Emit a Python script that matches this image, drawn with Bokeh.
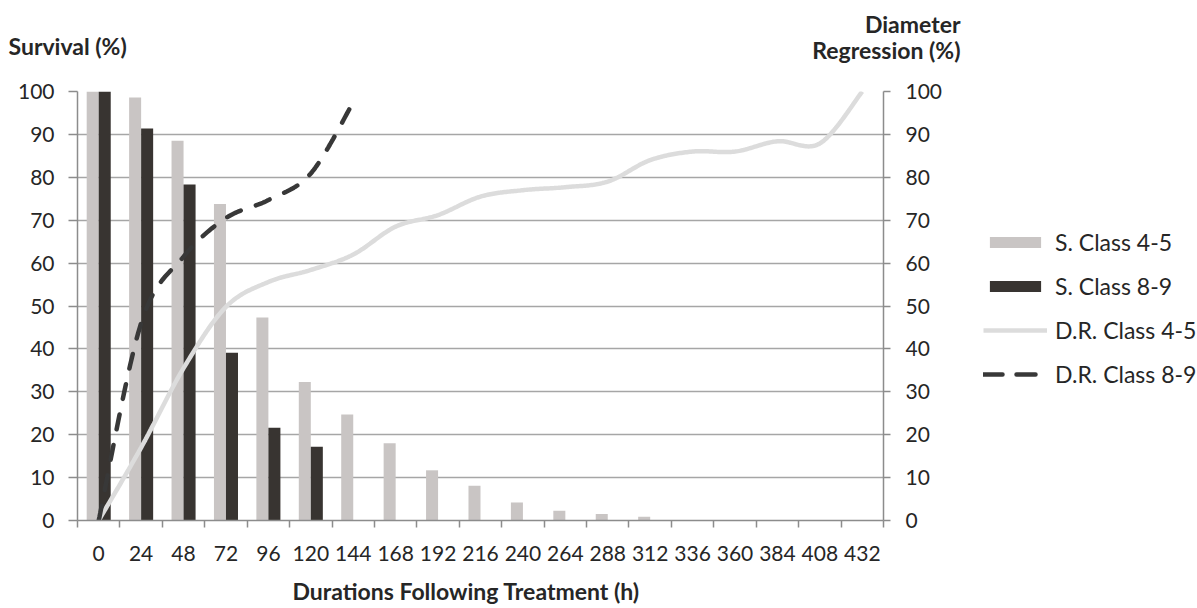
import numpy as np
from bokeh.plotting import figure
from bokeh.layouts import column, row
from bokeh.models import (Range1d, LinearAxis, FixedTicker, Legend, LegendItem,
                          Label, ColumnDataSource)
from bokeh.transform import dodge
from bokeh.embed import file_html
from bokeh.resources import INLINE

# ---------------- data ----------------
hours = [0, 24, 48, 72, 96, 120, 144, 168, 192, 216, 240, 264, 288, 312,
         336, 360, 384, 408, 432]
survival_4_5 = [100, 98.6, 88.5, 73.8, 47.3, 32.3, 24.7, 18.0, 11.7, 8.1,
                4.2, 2.3, 1.5, 0.9, 0, 0, 0, 0, 0]
survival_8_9 = [100, 91.4, 78.3, 39.1, 21.6, 17.2, 0, 0, 0, 0,
                0, 0, 0, 0, 0, 0, 0, 0, 0]
dr_4_5 = [0, 17.0, 35.5, 49.8, 55.6, 58.4, 62.0, 68.5, 71.2, 75.5,
          77.0, 77.7, 79.0, 84.0, 86.0, 86.0, 88.4, 87.9, 100]
dr_8_9_hours = [0, 24, 48, 72, 96, 120, 144]
dr_8_9 = [0, 46.0, 61.5, 70.5, 74.7, 80.9, 97.5]
y_ticks = [0, 10, 20, 30, 40, 50, 60, 70, 80, 90, 100]

series_names = ["S. Class 4-5", "S. Class 8-9", "D.R. Class 4-5", "D.R. Class 8-9"]
left_title = "Survival (%)"
right_title = ["Diameter", "Regression (%)"]
x_title = "Durations Following Treatment (h)"

FONT = "Lato"
TXT = "#262626"
AX = "#8c8c8c"
GRAY_BAR = "#c9c5c4"
DARK_BAR = "#383431"
LIGHT_LINE = "#dcdcdc"
DARK_LINE = "#383838"
W = 1197
HEAD_H = 78
MAIN_H = 497
FOOT_H = 33
MAIN_W = 950
BASE_FIX = 8   # baseline correction measured on the rendered page


def smooth(xs, ys, n=30):
    """Spreadsheet-style 'smoothed line' rendering (Catmull-Rom Bezier)."""
    xs = np.asarray(xs, float)
    ys = np.asarray(ys, float)
    px = np.concatenate([[xs[0]], xs, [xs[-1]]])
    py = np.concatenate([[ys[0]], ys, [ys[-1]]])
    t = np.linspace(0, 1, n + 1)[1:]
    ox, oy = [xs[0]], [ys[0]]
    for i in range(len(xs) - 1):
        p0x, p1x, p2x, p3x = px[i], px[i + 1], px[i + 2], px[i + 3]
        p0y, p1y, p2y, p3y = py[i], py[i + 1], py[i + 2], py[i + 3]
        c1x, c1y = p1x + (p2x - p0x) / 6, p1y + (p2y - p0y) / 6
        c2x, c2y = p2x - (p3x - p1x) / 6, p2y - (p3y - p1y) / 6
        bx = (1 - t) ** 3 * p1x + 3 * (1 - t) ** 2 * t * c1x + 3 * (1 - t) * t ** 2 * c2x + t ** 3 * p2x
        by = (1 - t) ** 3 * p1y + 3 * (1 - t) ** 2 * t * c1y + 3 * (1 - t) * t ** 2 * c2y + t ** 3 * p2y
        ox.extend(bx.tolist())
        oy.extend(by.tolist())
    return ox, oy


def strip(width, height):
    f = figure(width=width, height=height, x_range=Range1d(0, width),
               y_range=Range1d(0, height), output_backend="svg",
               toolbar_location=None, x_axis_type=None, y_axis_type=None,
               min_border=0, min_border_left=0, min_border_right=0,
               min_border_top=0, min_border_bottom=0)
    f.outline_line_color = None
    f.grid.visible = False
    f.frame_align = False
    return f


def text_label(fig, text, x, y, align, size="23px", bold=True):
    fig.add_layout(Label(x=x, y=y, text=text, text_align=align,
                         text_baseline="alphabetic", text_font=FONT,
                         text_font_size=size,
                         text_font_style="bold" if bold else "normal",
                         text_color=TXT))


# ---------------- header strip with the axis titles ----------------
head = strip(W, HEAD_H)
text_label(head, left_title, 8, HEAD_H - 53 + BASE_FIX, "left")
text_label(head, right_title[0], 960, HEAD_H - 31 + BASE_FIX, "right")
text_label(head, right_title[1], 960, HEAD_H - 57 + BASE_FIX, "right")

# ---------------- main chart ----------------
p = figure(width=MAIN_W, height=MAIN_H,
           x_range=Range1d(-12, 444), y_range=Range1d(0, 100),
           output_backend="svg", toolbar_location=None,
           min_border_left=77, min_border_right=MAIN_W - 883,
           min_border_top=13, min_border_bottom=55)
p.frame_align = False
p.outline_line_color = None
p.background_fill_color = "white"
p.border_fill_color = "white"
p.extra_y_ranges = {"dr": Range1d(0, 100)}

xa = p.xaxis[0]
xa.ticker = FixedTicker(ticks=hours, minor_ticks=[h - 12 for h in hours] + [hours[-1] + 12])
xa.major_tick_line_color = None
xa.major_tick_out = 0
xa.major_tick_in = 0
xa.minor_tick_out = 7
xa.minor_tick_in = 0
xa.minor_tick_line_color = AX
xa.minor_tick_line_width = 1.5
xa.axis_line_color = AX
xa.axis_line_width = 1.5
xa.major_label_standoff = 18
xa.major_label_text_font = FONT
xa.major_label_text_font_size = "21px"
xa.major_label_text_color = TXT

ya = p.yaxis[0]
ya.ticker = FixedTicker(ticks=y_ticks)
ya.major_tick_out = 9
ya.major_tick_in = 0
ya.minor_tick_line_color = None
ya.major_tick_line_color = AX
ya.major_tick_line_width = 1.5
ya.axis_line_color = AX
ya.axis_line_width = 1.5
ya.major_label_standoff = 14
ya.major_label_text_font = FONT
ya.major_label_text_font_size = "21px"
ya.major_label_text_color = TXT

ra = LinearAxis(y_range_name="dr", ticker=FixedTicker(ticks=y_ticks))
ra.major_tick_out = 7
ra.major_tick_in = 0
ra.minor_tick_line_color = None
ra.major_tick_line_color = AX
ra.major_tick_line_width = 1.5
ra.axis_line_color = AX
ra.axis_line_width = 1.5
ra.major_label_standoff = 15
ra.major_label_text_font = FONT
ra.major_label_text_font_size = "21px"
ra.major_label_text_color = TXT
p.add_layout(ra, "right")

p.xgrid.visible = False
p.ygrid.ticker = FixedTicker(ticks=y_ticks)
p.ygrid.grid_line_color = "#a6a6a6"
p.ygrid.grid_line_width = 1.5

src = ColumnDataSource(dict(hours=hours, s45=survival_4_5, s89=survival_8_9))
p.vbar(x=dodge("hours", -3.4), top="s45", width=6.8, source=src,
       fill_color=GRAY_BAR, line_color=None)
p.vbar(x=dodge("hours", 3.4), top="s89", width=6.8, source=src,
       fill_color=DARK_BAR, line_color=None)

lx, ly = smooth(hours, dr_4_5)
p.line(lx, ly, y_range_name="dr", line_color=LIGHT_LINE, line_width=4.5)
dx, dy = smooth(dr_8_9_hours, dr_8_9)
p.line(dx, dy, y_range_name="dr", line_color=DARK_LINE, line_width=4.5,
       line_dash="15 16", line_cap="round")

# ---------------- legend panel (same styles as the series) ----------------
LEG_W = W - MAIN_W
leg = strip(LEG_W, MAIN_H)
e = ColumnDataSource(dict(x=[np.nan], y=[np.nan]))
k1 = leg.vbar(x="x", top="y", width=1, source=e, fill_color=GRAY_BAR, line_color=None)
k2 = leg.vbar(x="x", top="y", width=1, source=e, fill_color=DARK_BAR, line_color=None)
k3 = leg.line(x="x", y="y", source=e, line_color=LIGHT_LINE, line_width=4.5)
k4 = leg.line(x="x", y="y", source=e, line_color=DARK_LINE, line_width=4.5,
              line_dash="19 14", line_cap="round")
legend = Legend(items=[LegendItem(label=series_names[0], renderers=[k1]),
                       LegendItem(label=series_names[1], renderers=[k2]),
                       LegendItem(label=series_names[2], renderers=[k3]),
                       LegendItem(label=series_names[3], renderers=[k4])],
                location=(983 - MAIN_W, MAIN_H - (388 - HEAD_H)), orientation="vertical",
                glyph_width=64, glyph_height=14, label_standoff=8,
                label_height=28, spacing=16, padding=0, margin=0,
                border_line_color=None, background_fill_alpha=0,
                label_text_font=FONT, label_text_font_size="23px",
                label_text_color=TXT)
leg.add_layout(legend, "center")

# ---------------- footer strip with the x-axis title ----------------
foot = strip(W, FOOT_H)
text_label(foot, x_title, 292, (HEAD_H + MAIN_H + FOOT_H) - 598 + BASE_FIX, "left")

layout = column(head, row(p, leg, spacing=0), foot, spacing=0)
open("out.html", "w").write(file_html(layout, INLINE))
